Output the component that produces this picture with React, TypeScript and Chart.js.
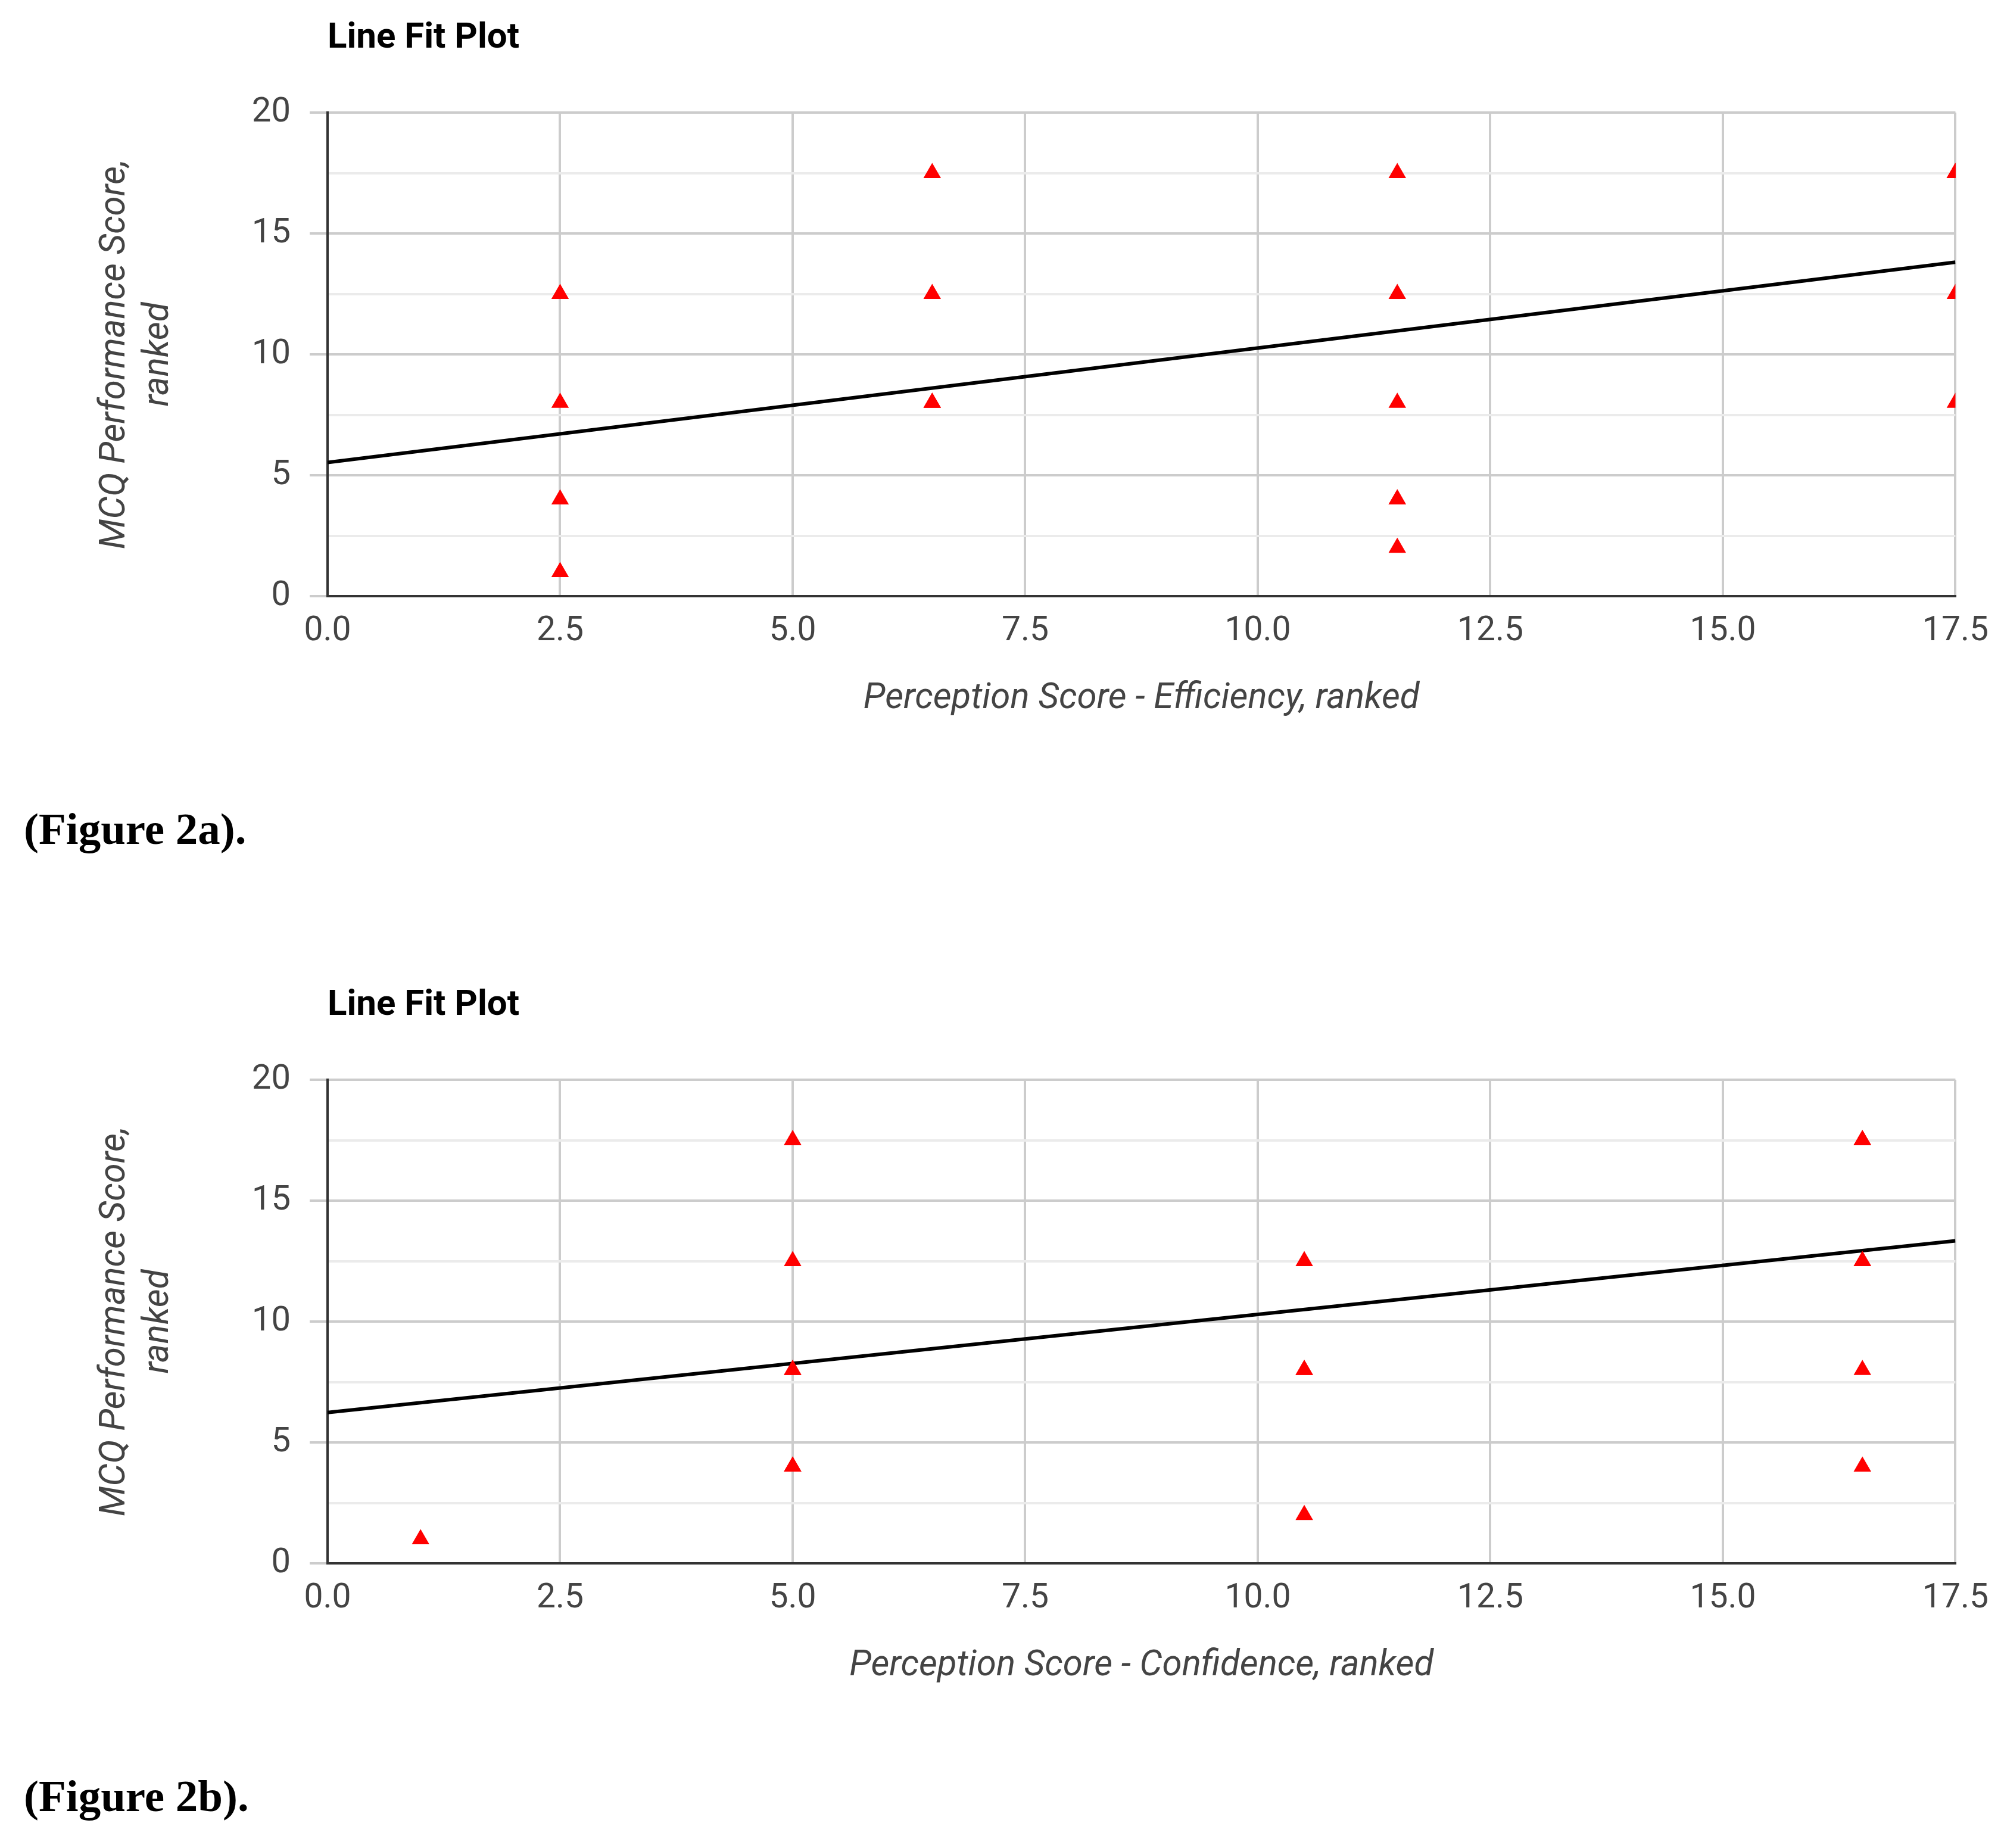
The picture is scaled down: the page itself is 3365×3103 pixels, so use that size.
import React, { useEffect, useRef } from "react";
import { Chart, registerables } from "chart.js";

Chart.register(...registerables);

// Figure 2a: efficiency ranks vs MCQ ranks (ties plotted on top of each other)
const efficiencyX = [
  2.5, 2.5, 2.5, 2.5,
  6.5, 6.5, 6.5, 6.5,
  11.5, 11.5, 11.5, 11.5, 11.5, 11.5,
  17.5, 17.5, 17.5, 17.5, 17.5, 17.5,
];
const efficiencyY = [
  12.5, 8, 4, 1,
  17.5, 12.5, 8, 8,
  17.5, 12.5, 8, 4, 4, 2,
  17.5, 17.5, 17.5, 17.5, 12.5, 8,
];
const efficiencyFit = [5.53, 13.81];

// Figure 2b: confidence ranks vs MCQ ranks
const confidenceX = [
  1,
  5, 5, 5, 5, 5, 5, 5,
  10.5, 10.5, 10.5, 10.5,
  16.5, 16.5, 16.5, 16.5, 16.5, 16.5, 16.5, 16.5,
];
const confidenceY = [
  1,
  17.5, 12.5, 8, 4, 4, 8, 17.5,
  12.5, 8, 2, 8,
  17.5, 12.5, 8, 4, 17.5, 17.5, 17.5, 12.5,
];
const confidenceFit = [6.24, 13.34];

const fitX = [0, 17.5];
const yTitle = ["MCQ Performance Score,", "ranked"];

const CANVAS_W = 3365;
const CANVAS_H = 1207;

interface FitChartProps {
  xs: number[];
  ys: number[];
  fit: number[];
  xTitle: string;
  top: number;
  caption: string;
}

const FitChart: React.FC<FitChartProps> = ({ xs, ys, fit, xTitle, top, caption }) => {
  const chartRef = useRef<HTMLCanvasElement | null>(null);

  useEffect(() => {
    if (!chartRef.current) return;
    const ctx = chartRef.current.getContext("2d");
    if (!ctx) return;

    const chart = new Chart(ctx, {
      type: "scatter",
      data: {
        datasets: [
          {
            label: "Observed",
            data: xs.map((x, i) => ({ x, y: ys[i] })),
            pointStyle: "triangle",
            pointRadius: 17,
            pointHoverRadius: 17,
            backgroundColor: "#ff0000",
            borderColor: "#ff0000",
            borderWidth: 0,
            order: 1,
          },
          {
            label: "Predicted",
            type: "line",
            data: fitX.map((x, i) => ({ x, y: fit[i] })),
            borderColor: "#000000",
            borderWidth: 6,
            pointRadius: 0,
            fill: false,
            order: 2,
          },
        ],
      },
      options: {
        responsive: false,
        animation: false,
        devicePixelRatio: 1,
        layout: { padding: { left: 157, right: 81, top: 189, bottom: 0 } },
        plugins: {
          legend: { display: false },
          tooltip: { enabled: false },
          title: { display: false },
        },
        scales: {
          x: {
            type: "linear",
            min: 0,
            max: 17.5,
            afterFit: (scale) => {
              scale.height = 206;
            },
            ticks: {
              stepSize: 2.5,
              padding: 26,
              color: "#444444",
              font: { family: "Roboto", size: 57, lineHeight: 1.2 },
              callback: (v) => Number(v).toFixed(1),
            },
            grid: {
              color: "#cccccc",
              lineWidth: 4,
              drawTicks: false,
            },
            border: { display: true, color: "#333333", width: 4 },
            title: {
              display: true,
              text: xTitle,
              color: "#444444",
              padding: 0,
              font: { family: "Roboto", size: 60, style: "italic", lineHeight: 1.1 },
            },
          },
          y: {
            type: "linear",
            min: 0,
            max: 20,
            afterFit: (scale) => {
              scale.width = 393;
            },
            ticks: {
              stepSize: 2.5,
              padding: 32,
              autoSkip: false,
              color: "#444444",
              font: { family: "Roboto", size: 58, lineHeight: 1.2 },
              callback: (v) => (Number(v) % 5 === 0 ? String(v) : ""),
            },
            grid: {
              color: (c) => (c.tick && c.tick.value % 5 !== 0 ? "#ebebeb" : "#cccccc"),
              tickColor: (c) => (c.tick && c.tick.value % 5 !== 0 ? "rgba(0,0,0,0)" : "#cccccc"),
              lineWidth: 4,
              tickLength: 30,
            },
            border: { display: true, color: "#333333", width: 4 },
            title: {
              display: true,
              text: yTitle,
              color: "#444444",
              padding: 0,
              font: { family: "Roboto", size: 60, style: "italic", lineHeight: 1.22 },
            },
          },
        },
      },
    });

    return () => {
      chart.destroy();
    };
  }, [xs, ys, fit, xTitle]);

  return (
    <>
      <div
        style={{
          position: "absolute",
          left: 550,
          top: top + 30,
          fontFamily: "Roboto",
          fontWeight: 700,
          fontSize: 60,
          lineHeight: "60px",
          color: "#000",
          whiteSpace: "nowrap",
        }}
      >
        Line Fit Plot
      </div>
      <canvas
        ref={chartRef}
        width={CANVAS_W}
        height={CANVAS_H}
        style={{ position: "absolute", left: 0, top, width: CANVAS_W, height: CANVAS_H }}
      />
      <div
        style={{
          position: "absolute",
          left: 40,
          top: top + 1354,
          fontFamily: "'Liberation Serif', serif",
          fontWeight: 700,
          fontSize: 75,
          lineHeight: "75px",
          color: "#000",
          whiteSpace: "nowrap",
        }}
      >
        {caption}
      </div>
    </>
  );
};

const App: React.FC = () => {
  return (
    <div
      style={{
        position: "absolute",
        left: 0,
        top: 0,
        width: CANVAS_W,
        height: 3103,
        background: "#ffffff",
        overflow: "hidden",
      }}
    >
      <FitChart
        xs={efficiencyX}
        ys={efficiencyY}
        fit={efficiencyFit}
        xTitle="Perception Score - Efficiency, ranked"
        top={0}
        caption="(Figure 2a)."
      />
      <FitChart
        xs={confidenceX}
        ys={confidenceY}
        fit={confidenceFit}
        xTitle="Perception Score - Confidence, ranked"
        top={1624}
        caption="(Figure 2b)."
      />
    </div>
  );
};

export default App;
